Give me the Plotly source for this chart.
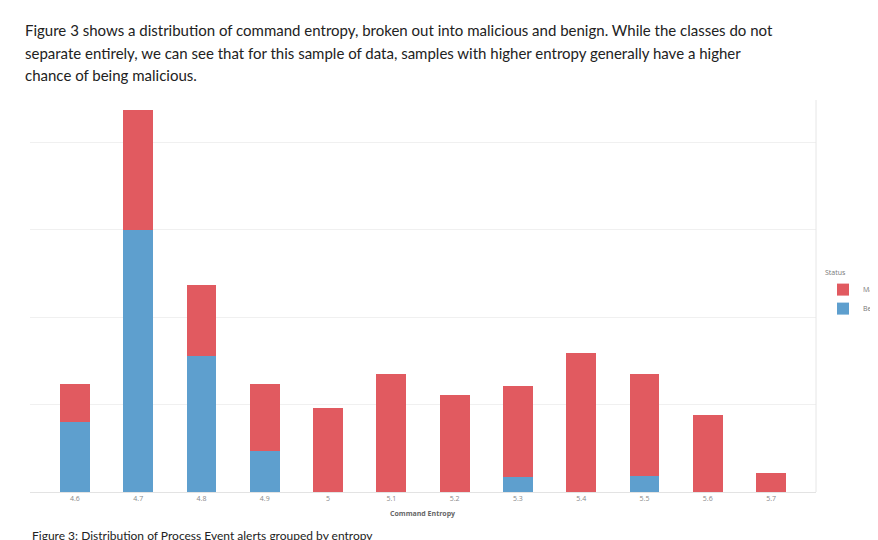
import plotly.graph_objs as go

entropy = ["4.6", "4.7", "4.8", "4.9", "5", "5.1", "5.2", "5.3", "5.4", "5.5", "5.6", "5.7"]
benign = [80, 299, 155, 47, 0, 0, 0, 17, 0, 18, 0, 0]
malicious = [43, 138, 82, 76, 96, 135, 111, 104, 159, 117, 88, 22]

intro = [
    "Figure 3 shows a distribution of command entropy, broken out into malicious and benign. While the classes do not",
    "separate entirely, we can see that for this sample of data, samples with higher entropy generally have a higher",
    "chance of being malicious.",
]
caption = "Figure 3: Distribution of Process Event alerts grouped by entropy"

fig = go.Figure()
fig.add_trace(go.Bar(x=entropy, y=benign, name="Benign", marker_color="#5E9FCE", marker_line_width=0))
fig.add_trace(go.Bar(x=entropy, y=malicious, name="Malicious", marker_color="#E15A60", marker_line_width=0))

# plot area spans x 22..808 px, y 92..484 px
def py(px):
    return (484 - px) / 392

def pxx(px):
    return (px - 22) / 786

for i, line in enumerate(intro):
    fig.add_annotation(text=line, xref="paper", yref="paper", x=pxx(15), y=py(22 + i * 22.5),
                       xanchor="left", yanchor="middle", showarrow=False,
                       font=dict(family="Lato, Open Sans, sans-serif", size=15, color="#222"))
fig.add_annotation(text=caption, xref="paper", yref="paper", x=pxx(22), y=py(527),
                   xanchor="left", yanchor="middle", showarrow=False,
                   font=dict(family="Lato, Open Sans, sans-serif", size=12, color="#222"))
fig.add_annotation(text="<b>Command Entropy</b>", xref="paper", yref="paper", x=pxx(414), y=py(505),
                   xanchor="center", yanchor="middle", showarrow=False,
                   font=dict(size=7, color="#666"))
fig.add_shape(type="line", xref="paper", yref="paper", x0=1, x1=1, y0=0, y1=1,
              line=dict(color="#e6e6e6", width=1))

fig.update_layout(
    barmode="stack",
    bargap=0.53,
    width=878, height=540,
    margin=dict(l=22, r=70, t=92, b=56, autoexpand=False),
    plot_bgcolor="white", paper_bgcolor="white",
    showlegend=True,
    legend=dict(title=dict(text="Status", font=dict(size=7, color="#777")), traceorder="reversed",
                x=pxx(815), y=py(258), xanchor="left", yanchor="top",
                font=dict(size=7, color="#777"), itemwidth=30),
    xaxis=dict(range=[-0.71, 11.71], tickfont=dict(size=7, color="#888"), showline=True,
               linecolor="#e3e3e3", ticks=""),
    yaxis=dict(range=[0, 448], dtick=100, showticklabels=False, gridcolor="#f0f0f0", zeroline=False),
)

fig.write_html("out.html")
